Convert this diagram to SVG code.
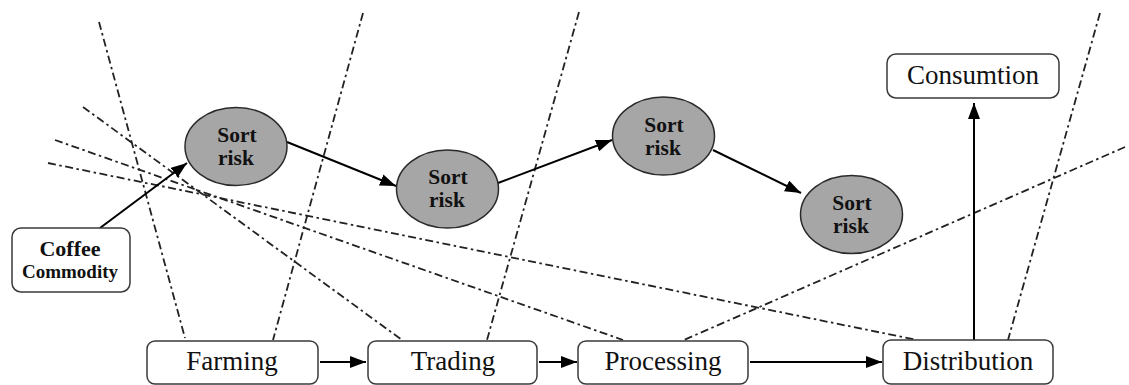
<svg xmlns="http://www.w3.org/2000/svg" width="1129" height="385" viewBox="0 0 1129 385">
<defs>
<marker id="ah" viewBox="0 0 16 12" refX="16" refY="6" markerWidth="16" markerHeight="12" markerUnits="userSpaceOnUse" orient="auto">
<path d="M0,0 L16,6 L0,12 Z" fill="#000"/>
</marker>
<style>
.box{fill:#fff;stroke:#3a3a3a;stroke-width:1.5}
.ell{fill:#a6a6a6;stroke:#2a2a2a;stroke-width:1.5}
.lbl{font-family:"Liberation Serif",serif;font-size:27px;fill:#111;text-anchor:middle}
.sr{font-family:"Liberation Serif",serif;font-size:21.5px;font-weight:bold;fill:#111;text-anchor:middle}
.cf{font-family:"Liberation Serif",serif;font-weight:bold;fill:#111;text-anchor:middle}
.dd{fill:none;stroke:#222;stroke-width:1.8;stroke-dasharray:8 3.5 2.5 3.5}
.ar{fill:none;stroke:#000;stroke-width:2;marker-end:url(#ah)}
</style>
</defs>
<rect width="1129" height="385" fill="#fff"/>
<g id="guides">
<line class="dd" x1="99" y1="22" x2="185" y2="338"/>
<line class="dd" x1="363" y1="13" x2="273" y2="340"/>
<line class="dd" x1="579" y1="12" x2="487" y2="340"/>
<line class="dd" x1="1100" y1="13" x2="1008" y2="340"/>
<line class="dd" x1="1125" y1="147" x2="684" y2="340"/>
<line class="dd" x1="83" y1="107" x2="402" y2="340"/>
<line class="dd" x1="55" y1="140" x2="623" y2="340"/>
<line class="dd" x1="48" y1="163" x2="917" y2="340"/>
</g>
<g id="connectors">
<line class="ar" x1="100" y1="228" x2="187" y2="163"/>
<line class="ar" x1="287" y1="142" x2="396" y2="186"/>
<line class="ar" x1="498" y1="183" x2="612" y2="140"/>
<line class="ar" x1="713" y1="150" x2="801" y2="193"/>
<line class="ar" x1="320" y1="362" x2="366" y2="362"/>
<line class="ar" x1="539" y1="362" x2="577" y2="362"/>
<line class="ar" x1="750" y1="362" x2="882" y2="362"/>
<line class="ar" x1="974" y1="340" x2="974" y2="103"/>
</g>
<g id="coffee">
<rect class="box" x="12" y="228" width="118" height="64" rx="9"/>
<text class="cf" x="70" y="256" font-size="22">Coffee</text>
<text class="cf" x="70" y="278" font-size="19">Commodity</text>
</g>
<g id="risk1">
<ellipse class="ell" cx="236" cy="146.5" rx="51" ry="39"/>
<text class="sr" x="237" y="142">Sort</text>
<text class="sr" x="236" y="165">risk</text>
</g>
<g id="risk2">
<ellipse class="ell" cx="447.5" cy="189" rx="51" ry="39"/>
<text class="sr" x="448" y="184">Sort</text>
<text class="sr" x="447" y="207">risk</text>
</g>
<g id="risk3">
<ellipse class="ell" cx="663.5" cy="136" rx="51" ry="39"/>
<text class="sr" x="664" y="132">Sort</text>
<text class="sr" x="663" y="155">risk</text>
</g>
<g id="risk4">
<ellipse class="ell" cx="851.5" cy="214.5" rx="51" ry="39"/>
<text class="sr" x="852" y="210">Sort</text>
<text class="sr" x="851" y="233">risk</text>
</g>
<g id="farming">
<rect class="box" x="147" y="341" width="171" height="43" rx="8"/>
<text class="lbl" x="232" y="370">Farming</text>
</g>
<g id="trading">
<rect class="box" x="368" y="341" width="169" height="43" rx="8"/>
<text class="lbl" x="453" y="370">Trading</text>
</g>
<g id="processing">
<rect class="box" x="578" y="341" width="170" height="43" rx="8"/>
<text class="lbl" x="663" y="370">Processing</text>
</g>
<g id="distribution">
<rect class="box" x="883" y="340" width="170" height="44" rx="8"/>
<text class="lbl" x="968" y="370">Distribution</text>
</g>
<g id="consumtion">
<rect class="box" x="887" y="54" width="172" height="44" rx="9"/>
<text class="lbl" x="973" y="84">Consumtion</text>
</g>
</svg>
